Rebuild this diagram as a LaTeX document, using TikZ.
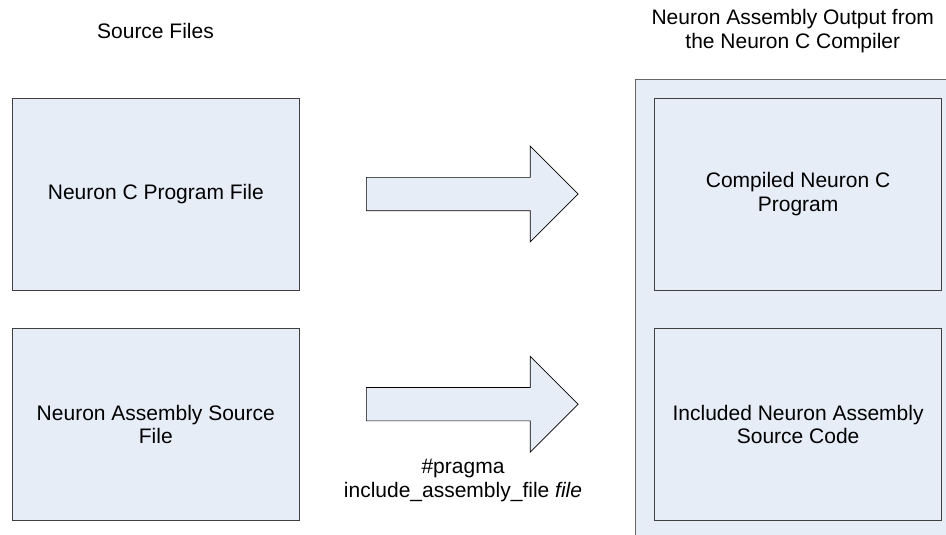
\documentclass[tikz,border=0pt]{standalone}
\usepackage{fontspec}
\setmainfont{Liberation Sans}
\usepackage{xcolor}
\usetikzlibrary{shapes,arrows,positioning}

\definecolor{boxfill}{RGB}{230,237,247}
\definecolor{boxline}{RGB}{64,64,64}

\begin{document}
\begin{tikzpicture}[
    x=1pt, y=-1pt,
    txt/.style={font=\fontsize{21}{23.5}\selectfont, align=center},
    srcbox/.style={rectangle, draw=boxline, fill=boxfill, line width=0.9pt, minimum width=287pt, minimum height=191.5pt, txt},
    outframe/.style={rectangle, draw=boxline!80, fill=boxfill, line width=0.9pt, minimum width=340pt, minimum height=480pt, anchor=north west},
    bigarrow/.style={single arrow, draw=black, fill=boxfill, line width=0.7pt, minimum height=211.7pt, minimum width=95pt,
        single arrow head extend=31.2pt, single arrow tip angle=90, inner xsep=0pt, inner ysep=16.3pt, anchor=tail}
]
\useasboundingbox (0,0) rectangle (946,535);
\clip (0,0) rectangle (946,535);

% Headings
\node[txt] (srchead) at (155.5,31) {Source Files};
\node[txt] (outhead) at (792.8,31) {Neuron Assembly Output from\\the Neuron C Compiler};

% Output frame
\node[outframe] (frame) at (634.7,79.3) {};

% Source files
\node[srcbox] (cfile) at (155.8,194.2) {Neuron C Program File};
\node[srcbox, below=38pt of cfile] (asmfile) {Neuron Assembly Source\\File};

% Compiler output
\node[srcbox, right=354.4pt of cfile] (cprog) {Compiled Neuron C\\Program};
\node[srcbox, below=38pt of cprog] (incasm) {Included Neuron Assembly\\Source Code};

% Arrows
\node[bigarrow] (arrc) at (366,194) {};
\node[bigarrow] (arrasm) at (366,404.2) {};
\node[txt] (pragma) at (463,480.5) {\#pragma\\include\_assembly\_file \textit{file}};

\end{tikzpicture}
\end{document}
